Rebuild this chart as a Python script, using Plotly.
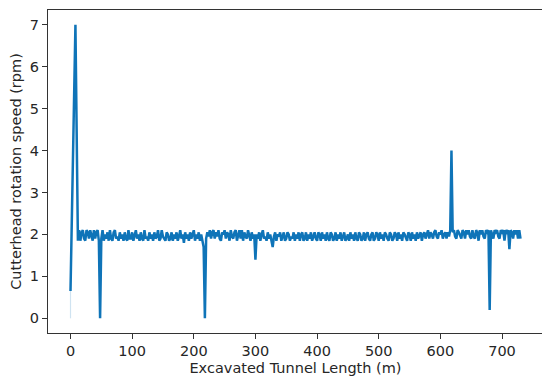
import plotly.graph_objects as go

# Opening segment (m, rpm)
start_length = [0, 8]
start_speed = [0.65, 7.0]

# Regular logging every 2 m from 12 m to 730 m
grid_first = 12
grid_step = 2
speed_rows = [
    [1.85, 2.1, 1.85, 2.05, 2.1, 1.9, 1.85, 2.1, 2.05, 1.9, 2.1, 1.95, 1.85, 2.1, 1.9, 2.05, 2.1, 1.85, 0.0, 1.9],
    [2.1, 1.85, 2.0, 1.9, 2.05, 1.85, 2.1, 1.9, 1.85, 2.05, 2.1, 1.9, 1.95, 1.85, 2.05, 1.9, 2.0, 1.85, 2.05, 1.9],
    [1.85, 2.1, 1.9, 1.9, 2.05, 1.85, 1.95, 2.1, 1.9, 2.0, 1.85, 2.05, 1.9, 1.85, 2.1, 1.9, 1.95, 1.85, 2.05, 1.9],
    [2.0, 1.85, 2.05, 1.9, 1.95, 2.1, 1.85, 1.9, 2.1, 1.95, 1.9, 1.85, 2.05, 2.0, 1.85, 1.9, 2.05, 1.85, 2.0, 1.9],
    [2.05, 1.85, 1.95, 2.1, 1.9, 2.0, 1.8, 2.05, 1.9, 2.0, 1.85, 2.05, 1.9, 2.0, 2.1, 1.85, 2.0, 1.9, 2.05, 1.85],
    [2.0, 1.85, 1.7, 0.0, 1.9, 2.05, 1.95, 2.1, 1.9, 2.05, 2.1, 1.9, 2.05, 1.95, 2.1, 1.9, 1.85, 2.05, 2.0, 2.1],
    [1.9, 2.05, 2.0, 1.85, 2.1, 1.95, 1.9, 2.05, 2.1, 1.85, 2.0, 2.1, 1.9, 2.1, 1.85, 2.05, 1.95, 1.9, 2.1, 2.0],
    [1.85, 2.05, 1.9, 2.0, 1.4, 2.0, 1.9, 2.05, 1.85, 2.0, 2.1, 1.9, 1.95, 1.85, 2.05, 1.9, 2.0, 1.85, 1.7, 1.95],
    [2.05, 1.85, 2.0, 1.95, 2.05, 1.85, 1.95, 2.05, 1.85, 1.9, 2.05, 2.0, 1.85, 1.95, 1.9, 2.05, 1.85, 2.0, 1.9, 2.05],
    [1.85, 2.0, 2.05, 1.85, 1.9, 2.05, 1.85, 2.0, 1.9, 2.05, 1.85, 1.95, 2.05, 1.9, 1.85, 2.05, 2.0, 1.85, 2.05, 1.9],
    [2.0, 1.85, 2.05, 1.9, 1.85, 2.05, 2.0, 1.85, 1.9, 2.05, 1.85, 2.0, 1.9, 2.05, 1.85, 1.95, 2.05, 1.85, 1.9, 2.0],
    [1.85, 2.05, 1.9, 2.0, 1.85, 2.05, 1.9, 1.85, 2.05, 2.0, 1.85, 1.9, 2.05, 1.85, 2.0, 2.05, 1.9, 1.85, 2.0, 2.05],
    [1.85, 1.9, 2.05, 2.0, 1.85, 2.05, 1.9, 2.0, 1.85, 2.05, 2.0, 1.9, 1.85, 2.05, 2.0, 1.85, 1.9, 2.05, 2.0, 1.85],
    [2.05, 1.9, 2.0, 1.85, 2.05, 2.0, 1.9, 1.85, 2.05, 2.0, 1.85, 2.05, 1.9, 2.0, 1.85, 2.05, 1.9, 2.0, 2.05, 1.85],
    [2.0, 2.05, 1.9, 2.0, 2.1, 1.9, 2.05, 2.0, 1.9, 2.05, 2.1, 1.95, 1.9, 2.05, 2.0, 2.1, 1.9, 2.0, 2.05, 1.9],
    [2.05, 1.95, 2.1, 4.0, 2.05, 2.1, 1.95, 1.9, 2.1, 2.05, 1.95, 1.9, 2.1, 2.05, 1.9, 2.1, 2.0, 2.1, 1.95, 1.9],
    [2.1, 1.95, 1.9, 2.1, 2.05, 1.85, 2.1, 2.0, 2.1, 1.95, 1.9, 2.1, 2.05, 2.1, 0.2, 2.1, 2.0, 1.9, 2.1, 2.05],
    [2.1, 1.95, 1.9, 2.1, 2.05, 2.1, 1.85, 2.1, 2.05, 2.1, 1.65, 2.1, 2.05, 1.9, 2.1, 2.0, 2.1, 1.9, 2.1, 1.9],
]

# Faint first reading
faint_length = [0, 0]
faint_speed = [0.0, 0.65]

x_ticks = [0, 100, 200, 300, 400, 500, 600, 700]
y_ticks = [0, 1, 2, 3, 4, 5, 6, 7]

grid_speed = [v for row in speed_rows for v in row]
grid_length = [grid_first + grid_step * i for i in range(len(grid_speed))]
length = start_length + grid_length
speed = start_speed + grid_speed

line_color = "#0f74b8"
font = dict(family="DejaVu Sans", size=14.5, color="#262626")

fig = go.Figure()
fig.add_trace(go.Scatter(x=faint_length, y=faint_speed, mode="lines",
                         line=dict(color="#cfe3f1", width=1.2), hoverinfo="skip"))
fig.add_trace(go.Scatter(x=length, y=speed, mode="lines",
                         line=dict(color=line_color, width=2.5)))

axis_common = dict(showgrid=False, zeroline=False, showline=True, mirror=True,
                   linecolor="#333333", linewidth=1, ticks="outside", ticklen=5,
                   tickcolor="#333333", tickfont=font, automargin=False)

# The page body adds an 8 px offset, so the figure is sized to compensate.
fig.update_layout(
    width=542, height=376,
    margin=dict(l=40, r=7, t=2, b=51),
    paper_bgcolor="white", plot_bgcolor="white",
    showlegend=False, font=font,
    xaxis=dict(range=[-36.5, 766.5], tickvals=x_ticks,
               title=dict(text="Excavated Tunnel Length (m)", font=font, standoff=4),
               **axis_common),
    yaxis=dict(range=[-0.35, 7.35], tickvals=y_ticks,
               title=dict(text="Cutterhead rotation speed (rpm)", font=font, standoff=6),
               **axis_common),
)

fig.write_html("out.html")
